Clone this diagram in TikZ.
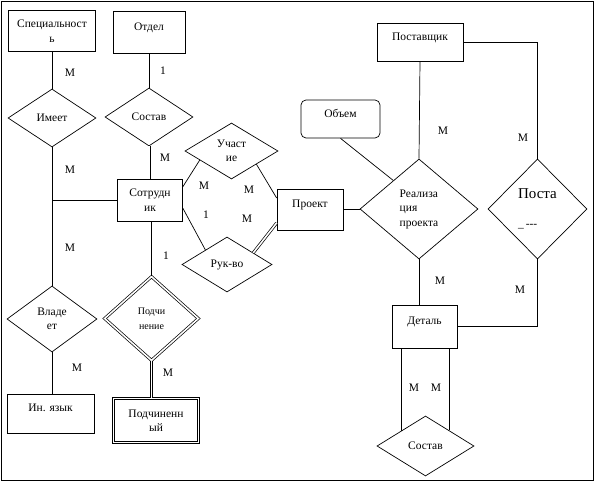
\documentclass[tikz,border=0pt]{standalone}
\usepackage{fontspec}
\setmainfont{Liberation Serif}
\usetikzlibrary{shapes.geometric}
\tikzset{
  ent/.style={draw, rectangle, inner sep=0pt, align=center},
  rel/.style={draw, diamond, inner sep=0pt, align=center},
  raised/.style={text depth=11pt},
  dbl/.style={double, double distance=1.6pt},
  card/.style={inner sep=0pt}
}
\begin{document}
\begin{tikzpicture}[x=1pt,y=-1pt,line width=0.7pt,font=\rmfamily\fontsize{11.5}{14.5}\selectfont]
  \useasboundingbox (0,0) rectangle (595,481);
  \draw (1,1) rectangle (593,480);
  % entities
  \node[ent, minimum width=87pt, minimum height=41pt] (spec) at (52,31) {Специальност\\ь};
  \node[ent, raised, minimum width=72pt, minimum height=42pt] (otdel) at (149,32) {Отдел};
  \node[ent, minimum width=65pt, minimum height=42pt] (sotr) at (150,200) {Сотрудн\\ик};
  \node[ent, raised, minimum width=66pt, minimum height=41pt] (proekt) at (310,209.5) {Проект};
  \node[ent, raised, minimum width=87pt, minimum height=39pt] (inyaz) at (50.5,413.5) {Ин. язык};
  \node[ent, dbl, minimum width=85pt, minimum height=44pt] (podchin) at (156,420.5) {Подчиненн\\ый};
  \node[ent, raised, rounded corners=5pt, minimum width=79pt, minimum height=38pt] (objem) at (340.5,119) {Объем};
  \node[ent, raised, minimum width=86pt, minimum height=38pt] (post) at (420,42) {Поставщик};
  \node[ent, raised, minimum width=65pt, minimum height=43pt] (det) at (424.5,326.5) {Деталь};
  % relationships
  \node[rel, minimum width=88pt, minimum height=58pt] (imeet) at (52,118) {Имеет};
  \node[rel, minimum width=88pt, minimum height=58pt] (sost1) at (149,117) {Состав};
  \node[rel, minimum width=93pt, minimum height=56pt] (uch) at (231.5,151) {Участ\\ие};
  \node[rel, minimum width=90pt, minimum height=55pt] (ruk) at (227,264.5) {Рук-во};
  \node[rel, dbl, minimum width=94pt, minimum height=84pt, font=\rmfamily\fontsize{10}{15}\selectfont] (podch) at (151.5,318.5) {Подчи\\нение};
  \node[rel, minimum width=90pt, minimum height=66pt] (vlad) at (52,319) {Владе\\ет};
  \node[rel, align=left, minimum width=118pt, minimum height=100pt] (real) at (419,209) {Реализа\\ция\\проекта};
  \node[rel, align=left, minimum width=99pt, minimum height=100pt] (posta) at (537.5,209)
    {{\fontsize{15}{18}\selectfont Поста}\\[14pt]\_\,-{}-{}-};
  \node[rel, minimum width=97pt, minimum height=60pt] (sost2) at (425.5,446) {Состав};
  % connectors
  \draw (spec.south) -- (imeet.north);
  \draw (otdel.south) -- (sost1.north);
  \draw (imeet.south) -- (vlad.north);
  \draw (vlad.south) -- (vlad.south |- inyaz.north);
  \draw (sotr.west) -- (sotr.west -| imeet.south);
  \draw[dbl] (sost1.south) -- (sost1.south |- sotr.north);
  \draw (sotr.22) -- (uch.196);
  \draw (uch.-28) -- (proekt.161);
  \draw (sotr.-14) -- (ruk.146);
  \draw[dbl] (ruk.24) -- (proekt.202);
  \draw (sotr.south -| podch.north) -- (podch.north);
  \draw[dbl] (podch.south) -- (podch.south |- podchin.north);
  \draw (objem.south) -- (real.132);
  \draw (post.south) -- (real.north);
  \draw (post.east) -| (posta.north);
  \draw (proekt.east) -- (proekt.east -| real.west);
  \draw (real.south) -- (real.south |- det.north);
  \draw (posta.south) |- (det.east);
  \draw (sost2.148) -- (sost2.148 |- det.south);
  \draw (sost2.33) -- (sost2.33 |- det.south);
  % cardinalities
  \foreach \x/\y/\t [count=\i] in {70/73/М, 163/71/1, 70/170/М, 70/248/М, 165/158/М,
      204/186/М, 249/190/М, 206/215/1, 247/219/М, 166/256/1, 77/368/М, 168/373/М,
      443/131/М, 523/138/М, 440/281/М, 520/290/М, 414/388/М, 436/388/М}
    \node[card] (c\i) at (\x,\y) {\t};
\end{tikzpicture}
\end{document}
